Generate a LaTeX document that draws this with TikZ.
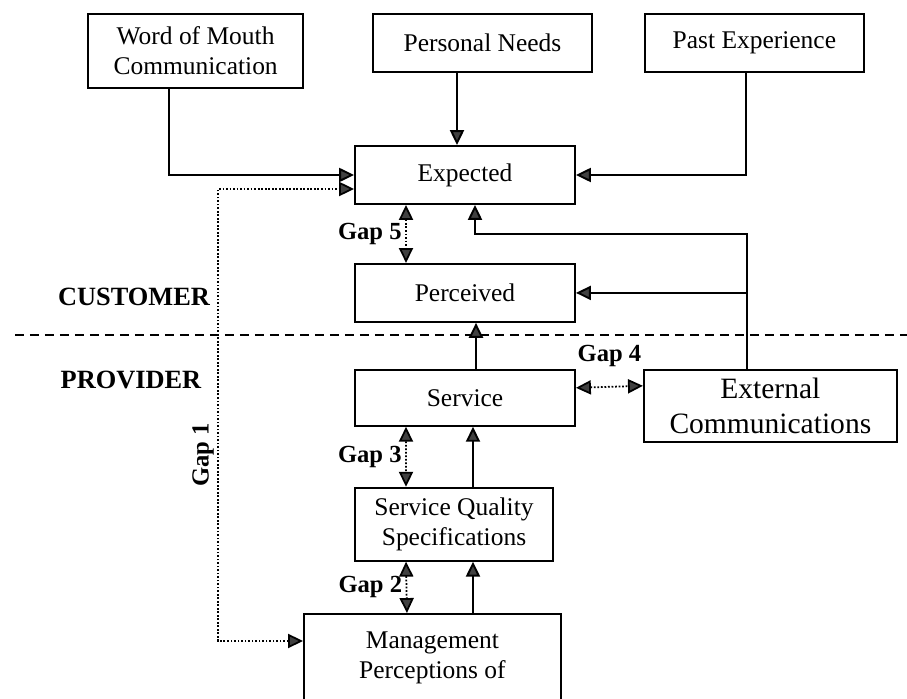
\documentclass[tikz,border=0pt]{standalone}
\usepackage{fontspec}
\setmainfont{Liberation Serif}
\usetikzlibrary{positioning, arrows.meta}
\tikzstyle{block} = [rectangle, draw, line width=1.1pt, align=center, inner sep=2pt, font=\fontsize{14.5}{17}\selectfont]
\tikzstyle{gaparrow} = [<->, line width=1pt, dash pattern=on 1pt off 1pt]
\tikzstyle{gaplabel} = [font=\fontsize{14}{16}\selectfont\bfseries, inner sep=2pt]
\tikzstyle{side} = [font=\fontsize{15}{17}\selectfont\bfseries]

\begin{document}
\begin{tikzpicture}[x=0.02cm, y=-0.02cm, line width=1.1pt, >={Triangle[length=8.5pt, width=8pt, fill=darkgray]}]
        \useasboundingbox (0,0) rectangle (907,699);

        \node [block, minimum width=4.38cm, minimum height=1.16cm] (needs) at (482.5,43) {Personal Needs};
        \node [block, below left = 0cm and 1.36cm of needs.north west, minimum width=4.3cm, minimum height=1.48cm] (wom) {Word of Mouth\\Communication};
        \node [block, right = 1.02cm of needs, minimum width=4.38cm, minimum height=1.16cm] (past) {Past Experience};

        \node [block, minimum width=4.4cm, minimum height=1.16cm] (expected) at (465,175) {Expected};
        \node [block, below = 1.16cm of expected, minimum width=4.4cm, minimum height=1.16cm] (perceived) {Perceived};
        \node [block, below = 0.92cm of perceived, minimum width=4.4cm, minimum height=1.12cm] (service) {Service};
        \node [block, below right = 1.2cm and 0cm of service.south west, minimum width=3.96cm, minimum height=1.46cm] (specs) {Service Quality\\Specifications};
        \node [block, anchor=north west, minimum width=5.14cm, inner ysep=10pt, text depth=1.4cm] (mgmt) at (303,613) {Management\\Perceptions of};
        \node [block, below right = 0cm and 1.34cm of service.north east, minimum width=5.06cm, minimum height=1.44cm, font=\fontsize{16.8}{20}\selectfont] (extcomm) {External\\Communications};

        \node [side] (customer) at (134,297) {CUSTOMER};
        \node [side] (provider) at (131,380) {PROVIDER};
        \draw [dash pattern=on 0.18cm off 0.12cm] (15,335) -- (907,335);

        % inputs to expectations
        \coordinate (needsfoot) at ([xshift=-0.16cm]expected.north);
        \draw [->] ([xshift=-0.54cm]wom.south) |- (expected.west);
        \draw [->] (needsfoot |- needs.south) -- (needsfoot);
        \draw [->] ([xshift=-0.17cm]past.south) |- (expected.east);

        % external communications
        \coordinate (extleg) at ([xshift=-0.47cm]extcomm.north);
        \coordinate (extfork) at ([xshift=0.2cm, yshift=-0.58cm]expected.south);
        \draw [->] (extleg) |- (extfork) -- ([xshift=0.2cm]expected.south);
        \draw [->] (extleg |- perceived.east) -- (perceived.east);

        % delivery chain
        \coordinate (specshead) at ([xshift=0.38cm]specs.north);
        \coordinate (specsfoot) at ([xshift=0.38cm]specs.south);
        \draw [->] ([xshift=0.22cm]service.north) -- ([xshift=0.22cm]perceived.south);
        \draw [->] (specshead) -- (specshead |- service.south);
        \draw [->] (specsfoot |- mgmt.north) -- (specsfoot);

        % gaps
        \draw [gaparrow] ([xshift=-1.18cm]expected.south) -- node [gaplabel, left] (gap5) {Gap 5} ([xshift=-1.18cm]perceived.north);
        \draw [gaparrow] ([yshift=0.2cm]service.east) -- node [gaplabel, above=9pt] (gap4) {Gap 4} ([yshift=0.4cm]extcomm.west);
        \draw [gaparrow] ([xshift=-1.18cm]service.south) -- node [gaplabel, left] (gap3) {Gap 3} ([xshift=-0.96cm]specs.north);
        \draw [gaparrow] ([xshift=-0.96cm]specs.south) -- node [gaplabel, left] (gap2) {Gap 2} ([xshift=-0.51cm]mgmt.north);
        \draw [gaparrow] ([yshift=-0.56cm]mgmt.north west) -- ++(-1.7cm,0) |- ([yshift=-0.28cm]expected.west);
        \node [gaplabel, rotate=90] (gap1) at (203,455) {Gap 1};
\end{tikzpicture}
\end{document}
